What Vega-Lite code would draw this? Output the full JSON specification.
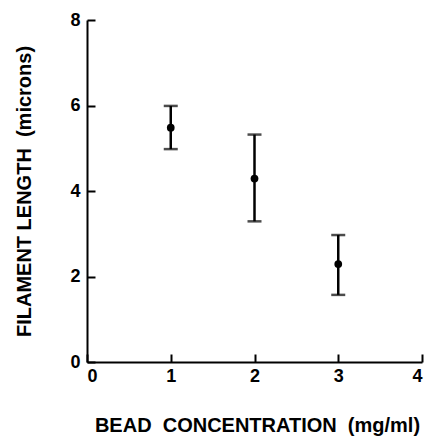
{
  "$schema": "https://vega.github.io/schema/vega-lite/v6.json",
  "width": 335,
  "height": 342,
  "autosize": {"type": "none"},
  "padding": {"left": 87, "top": 20, "right": 3, "bottom": 74},
  "background": "white",
  "config": {
    "view": {"stroke": null},
    "axis": {
      "grid": false,
      "domainColor": "black",
      "domainWidth": 2,
      "tickColor": "black",
      "tickWidth": 2,
      "tickSize": -8,
      "labelFont": "Liberation Sans",
      "labelFontWeight": "bold",
      "labelFontSize": 18,
      "labelColor": "black",
      "titleFont": "Liberation Sans",
      "titleFontWeight": "bold",
      "titleFontSize": 20,
      "titleColor": "black"
    }
  },
  "data": {
    "values": [
      {"conc": 1, "length": 5.48, "low": 4.98, "high": 5.99},
      {"conc": 2, "length": 4.29, "low": 3.29, "high": 5.32},
      {"conc": 3, "length": 2.29, "low": 1.57, "high": 2.97}
    ]
  },
  "encoding": {
    "x": {
      "field": "conc",
      "type": "quantitative",
      "scale": {"domain": [0, 4], "nice": false},
      "axis": {
        "values": [0, 1, 2, 3, 4],
        "title": "BEAD\u00a0 CONCENTRATION\u00a0 (mg/ml)",
        "titleX": 170,
        "titleY": 63,
        "titleBaseline": "middle",
        "labelPadding": 13
      }
    }
  },
  "layer": [
    {
      "mark": {"type": "rule", "color": "black", "strokeWidth": 2.5},
      "encoding": {
        "y": {
          "field": "low",
          "type": "quantitative",
          "scale": {"domain": [0, 8], "nice": false},
          "axis": {
            "values": [0, 2, 4, 6, 8],
            "title": "FILAMENT LENGTH\u00a0 (microns)",
            "titleX": -63,
            "titleY": 171,
            "titleAngle": -90,
            "titleBaseline": "middle",
            "titleAlign": "center",
            "labelPadding": 15
          }
        },
        "y2": {"field": "high"}
      }
    },
    {
      "mark": {"type": "tick", "orient": "horizontal", "color": "black", "size": 14, "thickness": 2.5},
      "encoding": {"y": {"field": "high", "type": "quantitative"}}
    },
    {
      "mark": {"type": "tick", "orient": "horizontal", "color": "black", "size": 14, "thickness": 2.5},
      "encoding": {"y": {"field": "low", "type": "quantitative"}}
    },
    {
      "mark": {"type": "point", "filled": true, "color": "black", "opacity": 1, "size": 60},
      "encoding": {"y": {"field": "length", "type": "quantitative"}}
    }
  ]
}
